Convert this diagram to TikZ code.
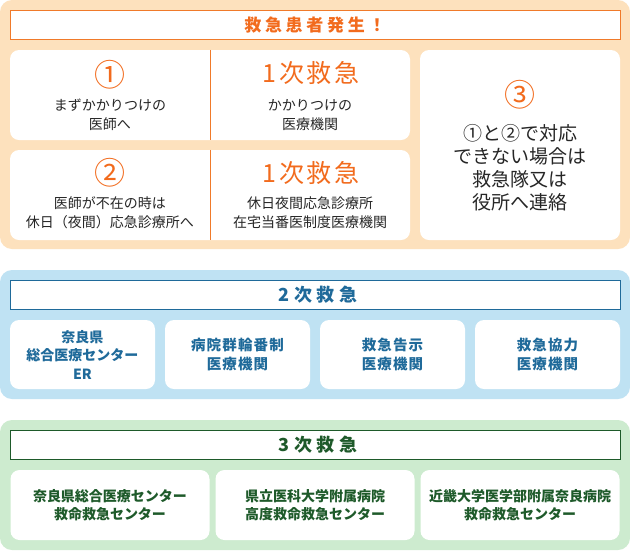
\documentclass[tikz,border=0pt]{standalone}
\usepackage{fontspec}
\setmainfont{Noto Sans CJK JP}
\usepackage{tikz}
\definecolor{peach}{HTML}{FDE1BD}
\definecolor{orangeline}{HTML}{F07A2A}
\definecolor{orangetext}{HTML}{F26B1D}
\definecolor{skyblue}{HTML}{BFE2F3}
\definecolor{bluetext}{HTML}{1F6A9A}
\definecolor{mint}{HTML}{CDEBCF}
\definecolor{greentext}{HTML}{1E5A2A}
\tikzset{
  panel/.style={fill=#1, draw=none, rounded corners=12pt},
  headbox/.style={fill=white, draw=#1, line width=1pt},
  card/.style={fill=white, draw=none, rounded corners=9pt, inner sep=0pt},
  bodytext/.style={align=center, text=black!85, font=\fontsize{14}{19}\selectfont},
  bluetxt/.style={align=center, text=bluetext, font=\fontsize{14.5}{19}\selectfont\bfseries\addfontfeatures{LetterSpace=8}},
  greentxt/.style={align=center, text=greentext, font=\fontsize{14}{18}\selectfont\bfseries},
  circnum/.style={text=orangetext, font=\fontsize{31}{31}\selectfont},
  levelmark/.style={text=#1, font=\fontsize{18}{18}\selectfont\bfseries\addfontfeatures{LetterSpace=25}}
}
\begin{document}
\begin{tikzpicture}[x=1pt,y=-1pt]
  \useasboundingbox[fill=white] (0,0) rectangle (630,550);
  % first level
  \fill[panel=peach] (0,0) rectangle (630,249);
  \draw[headbox=orangeline] (10,10) rectangle (620,39);
  \node[levelmark=orangetext, font=\fontsize{17}{17}\selectfont\bfseries\addfontfeatures{LetterSpace=22}] (patient) at (315,25) {救急患者発生！};
  \node[card, minimum width=400pt, minimum height=90pt] (rowone) at (210,95) {};
  \node[card, minimum width=400pt, minimum height=90pt] (rowtwo) at (210,195) {};
  \node[card, minimum width=200pt, minimum height=190pt] (rowthree) at (520,145) {};
  \draw[orangeline, line width=1pt] (rowone.north) -- (rowone.south);
  \draw[orangeline, line width=1pt] (rowtwo.north) -- (rowtwo.south);
  \node[circnum] (one) at (110,75) {①};
  \node[bodytext] (family) at (110,115) {まずかかりつけの\\医師へ};
  \node[levelmark=orangetext, font=\fontsize{25}{25}\selectfont\addfontfeatures{LetterSpace=10}] (firstA) at (311,73) {1次救急};
  \node[bodytext] (clinic) at (310,115) {かかりつけの\\医療機関};
  \node[circnum] (two) at (110,173) {②};
  \node[bodytext] (absent) at (110,213) {医師が不在の時は\\休日（夜間）応急診療所へ};
  \node[levelmark=orangetext, font=\fontsize{25}{25}\selectfont\addfontfeatures{LetterSpace=10}] (firstB) at (311,173) {1次救急};
  \node[bodytext] (holiday) at (310,213) {休日夜間応急診療所\\在宅当番医制度医療機関};
  \node[circnum] (three) at (520,95) {③};
  \node[bodytext, font=\fontsize{19}{23}\selectfont] (call) at (520,168) {①と②で対応\\できない場合は\\救急隊又は\\役所へ連絡};
  % second level
  \fill[panel=skyblue] (0,270) rectangle (630,399);
  \draw[headbox=bluetext] (10,280) rectangle (620,309);
  \node[levelmark=bluetext] (second) at (318,295) {2次救急};
  \node[card, minimum width=145pt, minimum height=69pt] (nara) at (82.5,354.5) {};
  \node[bluetxt, font=\fontsize{14}{18.5}\selectfont\bfseries] at (nara) {奈良県\\総合医療センター\\ER};
  \foreach \cx/\name/\txt in {237.5/rinban/{病院群輪番制\\医療機関},
                              392.5/kokuji/{救急告示\\医療機関},
                              547.5/kyoryoku/{救急協力\\医療機関}}{
    \node[card, minimum width=145pt, minimum height=69pt] (\name) at (\cx,354.5) {};
    \node[bluetxt] at (\name) {\txt};
  }
  % third level
  \fill[panel=mint] (0,420) rectangle (630,550);
  \draw[headbox=greentext] (10,430) rectangle (620,459);
  \node[levelmark=greentext] (third) at (318,445) {3次救急};
  \foreach \cx/\name/\txt in {110/naracenter/{奈良県総合医療センター\\救命救急センター},
                              315/idai/{県立医科大学附属病院\\高度救命救急センター},
                              520/kindai/{近畿大学医学部附属奈良病院\\救命救急センター}}{
    \node[card, minimum width=199pt, minimum height=70pt] (\name) at (\cx,505) {};
    \node[greentxt] at (\name) {\txt};
  }
\end{tikzpicture}
\end{document}
